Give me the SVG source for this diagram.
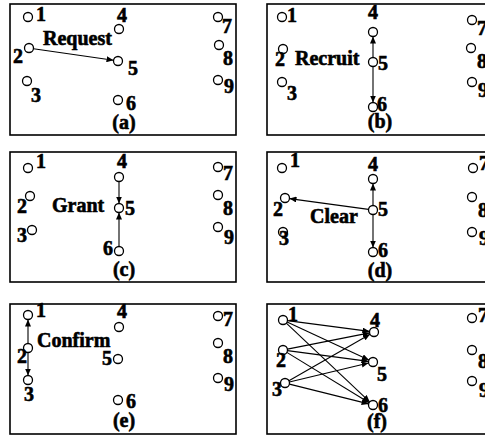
<svg xmlns="http://www.w3.org/2000/svg" width="485" height="436" viewBox="0 0 485 436">
  <style>
    .box { fill: #fff; stroke: #000; stroke-width: 1.6; }
    .node circle { fill: #fff; stroke: #000; stroke-width: 1.3; }
    text { font-family: "Liberation Serif", "Times New Roman", serif; font-weight: bold; font-size: 20px; fill: #000; stroke: #000; stroke-width: 0.6; }
    .cap { text-anchor: middle; }
    .edge { stroke: #000; stroke-width: 1.1; fill: none; marker-end: url(#head); }
  </style>
  <defs>
    <marker id="head" markerUnits="userSpaceOnUse" markerWidth="7" markerHeight="6" refX="7" refY="3" orient="auto">
      <path d="M0,0 L7,3 L0,6 z" fill="#000"/>
    </marker>
  </defs>
  <rect width="485" height="436" fill="#fff"/>

  <!-- (a) Request -->
  <g id="panel-a">
    <rect class="box" x="10" y="4" width="226" height="131"/>
    <g class="connectors">
      <line class="edge" x1="33.5" y1="48.7" x2="113.5" y2="60.3"/>
    </g>
    <text x="43" y="45">Request</text>
    <g id="a-n1" class="node"><circle cx="28" cy="17" r="4.5"/><text x="36" y="21">1</text></g>
    <g id="a-n2" class="node"><circle cx="29" cy="48" r="4.5"/><text x="13" y="63">2</text></g>
    <g id="a-n3" class="node"><circle cx="27" cy="81" r="4.5"/><text x="31" y="102">3</text></g>
    <g id="a-n4" class="node"><circle cx="119" cy="29" r="4.5"/><text x="117" y="22">4</text></g>
    <g id="a-n5" class="node"><circle cx="118" cy="61" r="4.5"/><text x="128" y="75">5</text></g>
    <g id="a-n6" class="node"><circle cx="118" cy="100" r="4.5"/><text x="126" y="110">6</text></g>
    <g id="a-n7" class="node"><circle cx="218" cy="17" r="4.5"/><text x="222" y="33">7</text></g>
    <g id="a-n8" class="node"><circle cx="219" cy="45" r="4.5"/><text x="223" y="65">8</text></g>
    <g id="a-n9" class="node"><circle cx="218" cy="80" r="4.5"/><text x="224" y="93">9</text></g>
    <text class="cap" x="124" y="129">(a)</text>
  </g>

  <!-- (b) Recruit -->
  <g id="panel-b">
    <rect class="box" x="267" y="4" width="230" height="131"/>
    <g class="connectors">
      <line class="edge" x1="373" y1="57.5" x2="373" y2="36.5"/>
      <line class="edge" x1="373" y1="66.5" x2="373" y2="102.5"/>
    </g>
    <text x="295" y="65">Recruit</text>
    <g id="b-n1" class="node"><circle cx="282" cy="17" r="4.5"/><text x="287" y="22">1</text></g>
    <g id="b-n2" class="node"><circle cx="283" cy="49" r="4.5"/><text x="275" y="66">2</text></g>
    <g id="b-n3" class="node"><circle cx="282" cy="82" r="4.5"/><text x="287" y="100">3</text></g>
    <g id="b-n4" class="node"><circle cx="373" cy="32" r="4.5"/><text x="368" y="19">4</text></g>
    <g id="b-n5" class="node"><circle cx="373" cy="62" r="4.5"/><text x="378" y="70">5</text></g>
    <g id="b-n6" class="node"><circle cx="373" cy="107" r="4.5"/><text x="377" y="111">6</text></g>
    <g id="b-n7" class="node"><circle cx="472" cy="20" r="4.5"/><text x="477" y="35">7</text></g>
    <g id="b-n8" class="node"><circle cx="471" cy="48" r="4.5"/><text x="477" y="68">8</text></g>
    <g id="b-n9" class="node"><circle cx="472" cy="82" r="4.5"/><text x="478" y="97">9</text></g>
    <text class="cap" x="380" y="128">(b)</text>
  </g>

  <!-- (c) Grant -->
  <g id="panel-c">
    <rect class="box" x="10" y="152" width="226" height="130"/>
    <g class="connectors">
      <line class="edge" x1="119" y1="181.5" x2="119" y2="203.5"/>
      <line class="edge" x1="119" y1="246.5" x2="119" y2="212.5"/>
    </g>
    <text x="52" y="212">Grant</text>
    <g id="c-n1" class="node"><circle cx="28" cy="168" r="4.5"/><text x="36" y="168">1</text></g>
    <g id="c-n2" class="node"><circle cx="30" cy="196" r="4.5"/><text x="17" y="213">2</text></g>
    <g id="c-n3" class="node"><circle cx="32" cy="230" r="4.5"/><text x="17" y="242">3</text></g>
    <g id="c-n4" class="node"><circle cx="119" cy="177" r="4.5"/><text x="117" y="168">4</text></g>
    <g id="c-n5" class="node"><circle cx="119" cy="208" r="4.5"/><text x="125" y="215">5</text></g>
    <g id="c-n6" class="node"><circle cx="119" cy="251" r="4.5"/><text x="103" y="255">6</text></g>
    <g id="c-n7" class="node"><circle cx="218" cy="167" r="4.5"/><text x="223" y="180">7</text></g>
    <g id="c-n8" class="node"><circle cx="218" cy="195" r="4.5"/><text x="223" y="215">8</text></g>
    <g id="c-n9" class="node"><circle cx="218" cy="227" r="4.5"/><text x="224" y="244">9</text></g>
    <text class="cap" x="124" y="276">(c)</text>
  </g>

  <!-- (d) Clear -->
  <g id="panel-d">
    <rect class="box" x="267" y="152" width="230" height="130"/>
    <g class="connectors">
      <line class="edge" x1="373" y1="205.5" x2="373" y2="183.5"/>
      <line class="edge" x1="373" y1="214.5" x2="373" y2="247.5"/>
      <line class="edge" x1="368.5" y1="209.4" x2="289.5" y2="198.6"/>
    </g>
    <text x="310" y="223">Clear</text>
    <g id="d-n1" class="node"><circle cx="282" cy="168" r="4.5"/><text x="290" y="167">1</text></g>
    <g id="d-n2" class="node"><circle cx="285" cy="198" r="4.5"/><text x="273" y="216">2</text></g>
    <g id="d-n3" class="node"><circle cx="283" cy="232" r="4.5"/><text x="279" y="245">3</text></g>
    <g id="d-n4" class="node"><circle cx="373" cy="179" r="4.5"/><text x="368" y="171">4</text></g>
    <g id="d-n5" class="node"><circle cx="373" cy="210" r="4.5"/><text x="378" y="216">5</text></g>
    <g id="d-n6" class="node"><circle cx="373" cy="252" r="4.5"/><text x="378" y="257">6</text></g>
    <g id="d-n7" class="node"><circle cx="473" cy="168" r="4.5"/><text x="479" y="170">7</text></g>
    <g id="d-n8" class="node"><circle cx="472" cy="197" r="4.5"/><text x="478" y="217">8</text></g>
    <g id="d-n9" class="node"><circle cx="472" cy="232" r="4.5"/><text x="479" y="245">9</text></g>
    <text class="cap" x="380" y="277">(d)</text>
  </g>

  <!-- (e) Confirm -->
  <g id="panel-e">
    <rect class="box" x="10" y="304" width="226" height="130"/>
    <g class="connectors">
      <line class="edge" x1="28" y1="343.5" x2="28" y2="319.5"/>
      <line class="edge" x1="28" y1="352.5" x2="28" y2="375.5"/>
    </g>
    <text x="37" y="347">Confirm</text>
    <g id="e-n1" class="node"><circle cx="28" cy="315" r="4.5"/><text x="36" y="317">1</text></g>
    <g id="e-n2" class="node"><circle cx="28" cy="348" r="4.5"/><text x="17" y="363">2</text></g>
    <g id="e-n3" class="node"><circle cx="28" cy="380" r="4.5"/><text x="24" y="401">3</text></g>
    <g id="e-n4" class="node"><circle cx="119" cy="327" r="4.5"/><text x="117" y="318">4</text></g>
    <g id="e-n5" class="node"><circle cx="118" cy="359" r="4.5"/><text x="102" y="365">5</text></g>
    <g id="e-n6" class="node"><circle cx="118" cy="400" r="4.5"/><text x="126" y="408">6</text></g>
    <g id="e-n7" class="node"><circle cx="218" cy="316" r="4.5"/><text x="223" y="326">7</text></g>
    <g id="e-n8" class="node"><circle cx="218" cy="343" r="4.5"/><text x="223" y="363">8</text></g>
    <g id="e-n9" class="node"><circle cx="218" cy="378" r="4.5"/><text x="224" y="391">9</text></g>
    <text class="cap" x="124" y="427">(e)</text>
  </g>

  <!-- (f) all-to-all -->
  <g id="panel-f">
    <rect class="box" x="267" y="304" width="230" height="130"/>
    <g class="connectors">
      <line class="edge" x1="287.5" y1="320.6" x2="369.5" y2="331.4"/>
      <line class="edge" x1="287.1" y1="321.9" x2="368.9" y2="360.1"/>
      <line class="edge" x1="286.3" y1="323.1" x2="369.7" y2="401.9"/>
      <line class="edge" x1="287.4" y1="349.1" x2="369.6" y2="332.9"/>
      <line class="edge" x1="287.5" y1="350.6" x2="368.5" y2="361.4"/>
      <line class="edge" x1="286.8" y1="352.4" x2="369.2" y2="402.7"/>
      <line class="edge" x1="288.9" y1="380.8" x2="370.1" y2="334.2"/>
      <line class="edge" x1="289.4" y1="382.0" x2="368.6" y2="363.0"/>
      <line class="edge" x1="289.4" y1="384.1" x2="368.6" y2="403.9"/>
    </g>
    <g id="f-n1" class="node"><circle cx="283" cy="320" r="4.5"/><text x="288" y="321">1</text></g>
    <g id="f-n2" class="node"><circle cx="283" cy="350" r="4.5"/><text x="276" y="367">2</text></g>
    <g id="f-n3" class="node"><circle cx="285" cy="383" r="4.5"/><text x="272" y="396">3</text></g>
    <g id="f-n4" class="node"><circle cx="374" cy="332" r="4.5"/><text x="370" y="327">4</text></g>
    <g id="f-n5" class="node"><circle cx="373" cy="362" r="4.5"/><text x="377" y="381">5</text></g>
    <g id="f-n6" class="node"><circle cx="373" cy="405" r="4.5"/><text x="378" y="412">6</text></g>
    <g id="f-n7" class="node"><circle cx="472" cy="318" r="4.5"/><text x="478" y="322">7</text></g>
    <g id="f-n8" class="node"><circle cx="472" cy="350" r="4.5"/><text x="478" y="368">8</text></g>
    <g id="f-n9" class="node"><circle cx="472" cy="381" r="4.5"/><text x="479" y="397">9</text></g>
    <text class="cap" x="377" y="428">(f)</text>
  </g>
</svg>
